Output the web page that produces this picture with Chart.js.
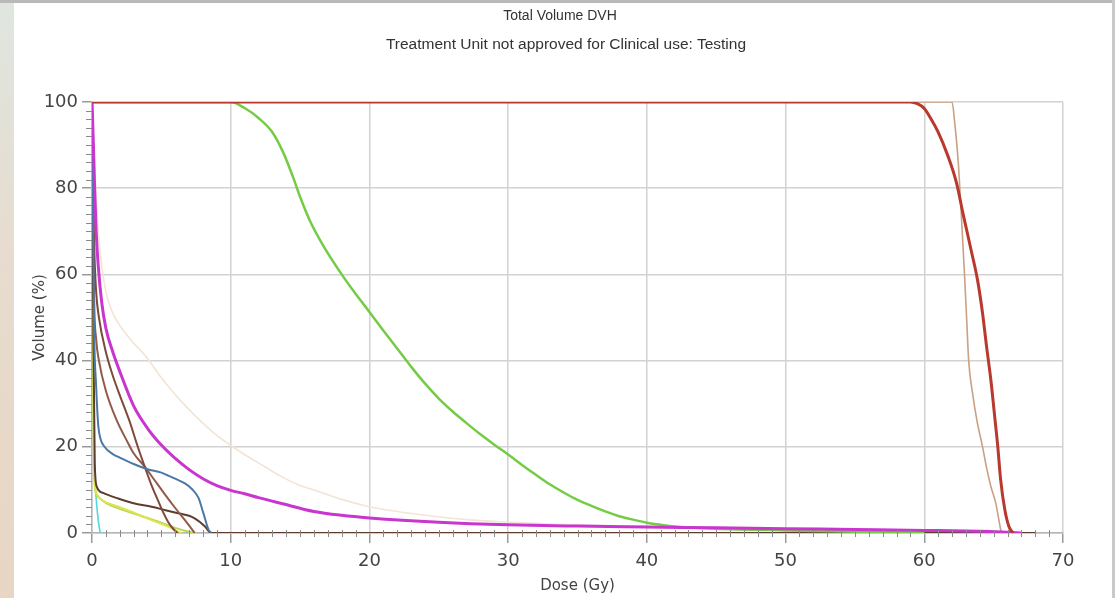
<!DOCTYPE html>
<html>
<head>
<meta charset="utf-8">
<script src="https://cdn.jsdelivr.net/npm/chart.js@4.4.1/dist/chart.umd.min.js"></script>
<style>
  html, body { margin: 0; padding: 0; background: #fff; }
  body { width: 1115px; height: 598px; position: relative; overflow: hidden; font-family: 'Liberation Sans', Arial, sans-serif; }
  #stripLeft { position: absolute; left: 0; top: 0; width: 14px; height: 598px; background: linear-gradient(#dfe6e0, #e6dccf 40%, #e8d6c4); }
  #stripTop { position: absolute; left: 0; top: 0; width: 1115px; height: 3px; background: #b9b9b9; }
  #stripRight { position: absolute; right: 0; top: 0; width: 3px; height: 598px; background: #c9c9c9; }
  #wrap { position: absolute; left: 0; top: 0; width: 1115px; height: 598px; }
  canvas { display: block; }
  .ttl { position: absolute; transform: translateX(-50%); white-space: nowrap; color: #333; line-height: 1; }
  #title { left: 560px; top: 8px; font-size: 14px; }
  #subtitle { left: 566px; top: 36px; font-size: 15.5px; }
</style>
</head>
<body>
<div id="stripLeft"></div>
<div id="stripTop"></div>
<div id="stripRight"></div>
<div id="wrap"><canvas id="dvh" width="1115" height="598"></canvas></div>
<div class="ttl" id="title">Total Volume DVH</div>
<div class="ttl" id="subtitle">Treatment Unit not approved for Clinical use: Testing</div>
<script>
// DVH curves: [dose Gy, volume %]
const ptvCurve = [[0,100],[59,100],[59.5,99.6],[60,98.5],[60.5,96],[61,93],[61.7,87.5],[62.3,81.5],[62.8,74],[63.35,66],[63.85,58.5],[64.2,51],[64.5,43],[64.8,35.5],[65.05,27.8],[65.3,20],[65.5,12.5],[65.8,5.5],[66.1,1.5],[66.4,0]];
const tanCurve = [[0,100],[62,100],[62.2,95],[62.45,86],[62.7,72],[62.9,60],[63.05,50],[63.2,40],[63.5,32],[63.8,26],[64.2,20],[64.5,15],[64.8,10.8],[65.15,7],[65.35,3.5],[65.55,0]];
const greenCurve = [[0,100],[10,100],[11,98.6],[12,96.3],[13,93],[13.8,88.2],[14.5,82.5],[15,78],[15.7,72.5],[16.7,66.5],[18,60],[19,55.5],[20,51.3],[21,47],[22,42.8],[23,38.6],[24,34.7],[25,31.2],[26,28.2],[27,25.5],[28,22.9],[29,20.5],[30,18.2],[31,15.8],[32,13.5],[33,11.3],[34,9.4],[35,7.7],[36,6.3],[37,5],[38,3.9],[39,3.1],[40,2.4],[41,1.9],[42,1.5],[45,1.0],[50,0.6],[55,0.3],[60,0]];
const magentaCurve = [[0,100],[0.1,90],[0.2,79],[0.3,70],[0.45,62],[0.7,53.5],[1,47.5],[1.5,42],[2,37.5],[3,29.5],[4,24.3],[5,20.4],[6,17.3],[7,14.7],[8,12.6],[9,11],[10,9.9],[11,9.1],[12,8.2],[13.6,6.9],[16,5],[18,4.1],[20,3.5],[25,2.5],[30,1.9],[35,1.6],[40,1.4],[45,1.2],[50,1.0],[55,0.8],[60,0.6],[64,0.4],[66,0.2],[67,0]];
const beigeCurve = [[0,100],[0.2,84],[0.5,68],[1,56],[1.5,51],[2.5,46],[4,40.5],[5,36],[6.3,31],[7.5,27],[8.75,23.3],[10,20.3],[11.2,17.8],[12.5,15.3],[13.6,13.2],[15,11],[16,10],[18,7.8],[20,6.1],[22,5],[24.6,3.9],[27,3.1],[29.4,2.6],[33,2.1],[36,1.8],[40,1.5],[45,1.2],[50,1],[55,0.8],[60,0.6],[65,0.3],[66,0]];
const blueCurve = [[0,100],[0.15,48],[0.3,34],[0.45,25],[0.6,22],[0.9,20],[1.5,18.3],[2,17.5],[3,16],[4,14.8],[5,14],[5.5,13.3],[6,12.6],[6.7,11.5],[7.2,10.2],[7.67,8.2],[8.03,4.6],[8.4,0.8],[8.6,0]];
const brownACurve = [[0,100],[0.15,68],[0.3,56],[0.5,50],[1,42],[1.5,36.5],[2,32],[2.7,26],[3.3,20],[3.8,15.4],[4.3,11],[4.7,8],[5.1,5],[5.5,2.5],[5.9,0.8],[6.2,0]];
const brownBCurve = [[0,100],[0.15,55],[0.3,45],[0.5,40],[1,33],[1.8,26],[2.5,21.5],[3,18.5],[3.8,15.4],[4.5,12.3],[5.2,9.2],[6,5.8],[6.7,3],[7.1,1.3],[7.4,0]];
const brownCCurve = [[0,100],[0.1,45],[0.2,16],[0.35,10.7],[0.8,9.3],[1.9,8],[3,6.9],[4.3,6.1],[5.3,5.3],[6.2,4.6],[7,4],[7.4,3.4],[7.8,2.5],[8.15,1.5],[8.6,0],[68,0]];
const yellowCurve = [[0,100],[0.1,35],[0.2,12],[0.35,9],[0.7,7.7],[1.9,6.1],[3.1,4.6],[4.3,3],[5.5,1.5],[6.2,0.3],[6.5,0]];
const limeCurve = [[0,100],[0.1,30],[0.2,11],[0.4,8.5],[1,7],[2,5.6],[3.5,4],[5,2.4],[6,1.2],[7,0.3],[7.5,0]];
const cyanCurve = [[0,100],[0.1,30],[0.2,13],[0.3,8],[0.4,4.5],[0.5,1.8],[0.6,0]];

const doseTicks = [0, 10, 20, 30, 40, 50, 60, 70];
const volumeTicks = [0, 20, 40, 60, 80, 100];

// first in list = drawn on top
const series = [
  { name: 'PTV', pts: ptvCurve, color: '#b8392e', width: 3 },
  { name: 'Body', pts: magentaCurve, color: '#c936cf', width: 3 },
  { name: 'Green', pts: greenCurve, color: '#74cc45', width: 2.5 },
  { name: 'Tan', pts: tanCurve, color: '#c9a184', width: 1.6 },
  { name: 'Blue', pts: blueCurve, color: '#4c78a6', width: 2 },
  { name: 'BrownA', pts: brownACurve, color: '#7e4a3c', width: 2 },
  { name: 'BrownB', pts: brownBCurve, color: '#935a4a', width: 2 },
  { name: 'BrownC', pts: brownCCurve, color: '#5e3c2e', width: 2 },
  { name: 'Yellow', pts: yellowCurve, color: '#dfe34a', width: 2 },
  { name: 'Lime', pts: limeCurve, color: '#b5d955', width: 2 },
  { name: 'Cyan', pts: cyanCurve, color: '#4fd9d9', width: 1.6 },
  { name: 'Beige', pts: beigeCurve, color: '#f3e4d6', width: 1.6 }
];

const tickFont = { family: "'DejaVu Sans', Verdana, sans-serif", size: 18 };
const titleFont = { family: "'DejaVu Sans', Verdana, sans-serif", size: 15 };

// small minor ticks along both axes (every 1 Gy, every 2 %)
const minorTicks = {
  id: 'minorTicks',
  afterDatasetsDraw(chart) {
    const { ctx, scales: { x, y } } = chart;
    ctx.save();
    ctx.strokeStyle = '#8a8a8a';
    ctx.lineWidth = 1;
    ctx.beginPath();
    for (let v = x.min; v <= x.max; v += 1) {
      if (v % 10 === 0) continue;
      const px = Math.round(x.getPixelForValue(v)) + 0.5;
      ctx.moveTo(px, y.bottom - 3);
      ctx.lineTo(px, y.bottom + 4);
    }
    for (let v = y.min; v <= y.max; v += 2) {
      if (v % 20 === 0) continue;
      const py = Math.round(y.getPixelForValue(v)) + 0.5;
      ctx.moveTo(x.left - 6, py);
      ctx.lineTo(x.left, py);
    }
    ctx.stroke();
    ctx.restore();
  }
};

const dvhChart = new Chart(document.getElementById('dvh'), {
  type: 'line',
  data: {
    datasets: series.map(s => ({
      label: s.name,
      data: s.pts.map(p => ({ x: p[0], y: p[1] })),
      borderColor: s.color,
      borderWidth: s.width,
      pointRadius: 0,
      cubicInterpolationMode: 'monotone',
      fill: false
    }))
  },
  options: {
    responsive: false,
    animation: false,
    layout: { padding: { left: 14, right: 52, top: 102, bottom: 3 } },
    plugins: {
      legend: { display: false },
      tooltip: { enabled: false }
    },
    scales: {
      x: {
        type: 'linear',
        min: 0,
        max: 70,
        afterBuildTicks: (s) => { s.ticks = doseTicks.map(v => ({ value: v })); },
        afterFit: (s) => { s.height = 62; },
        ticks: { color: '#444', font: tickFont, padding: 8, maxRotation: 0 },
        grid: { color: '#d2d2d2', lineWidth: 1.5, tickLength: 10, tickColor: '#9a9a9a' },
        border: { color: '#b5b5b5', width: 1.5 },
        title: { display: true, text: 'Dose (Gy)', color: '#444', font: titleFont, padding: { top: 0, bottom: 0 } }
      },
      y: {
        type: 'linear',
        min: 0,
        max: 100,
        afterBuildTicks: (s) => { s.ticks = volumeTicks.map(v => ({ value: v })); },
        afterFit: (s) => { s.width = 78; },
        ticks: { color: '#444', font: tickFont, padding: 4 },
        grid: { color: '#d2d2d2', lineWidth: 1.5, tickLength: 10, tickColor: '#9a9a9a' },
        border: { color: '#b5b5b5', width: 1.5 },
        title: { display: true, text: 'Volume (%)', color: '#444', font: titleFont, padding: { top: 17, bottom: 0 } }
      }
    }
  },
  plugins: [minorTicks]
});
</script>
</body>
</html>
